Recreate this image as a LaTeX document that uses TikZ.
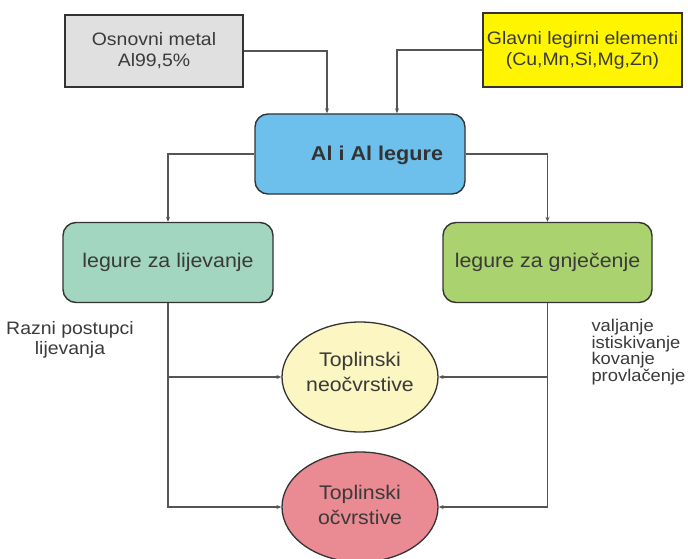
\documentclass[tikz,border=0pt]{standalone}
\usepackage{fontspec}
\setmainfont[FakeStretch=1.08]{Liberation Sans}
\usetikzlibrary{arrows.meta,shapes.geometric}
\definecolor{txt}{HTML}{3A3A3A}
\definecolor{edge}{HTML}{333333}
\definecolor{linec}{HTML}{555555}
\definecolor{grayfill}{HTML}{E0E0E0}
\definecolor{yellowfill}{HTML}{FFF500}
\definecolor{bluefill}{HTML}{6EC0EC}
\definecolor{mintfill}{HTML}{A2D6C0}
\definecolor{limefill}{HTML}{AAD26E}
\definecolor{creamfill}{HTML}{FBF6C2}
\definecolor{pinkfill}{HTML}{EA8A92}
\begin{document}
\begin{tikzpicture}[x=1pt,y=-1pt,
  every node/.style={text=txt,font=\fontsize{18}{21}\selectfont},
  sqbox/.style={draw=edge,line width=1.4pt,align=center,inner sep=0pt},
  rbox/.style={draw=edge,line width=1.4pt,rounded corners=13pt,align=center,inner sep=0pt,minimum width=210pt,minimum height=80pt,font=\fontsize{19.8}{22}\selectfont},
  oval/.style={ellipse,draw=edge,line width=1.3pt,align=center,inner sep=0pt,minimum width=156pt,minimum height=110pt,font=\fontsize{19.7}{22}\selectfont},
  conn/.style={draw=linec,line width=1.3pt},
  arr/.style={conn,-{Stealth[length=5pt,width=4pt]}},
  note/.style={font=\fontsize{17}{16.7}\selectfont}
]
\useasboundingbox (0,0) rectangle (688,559);
\node[sqbox,fill=grayfill,minimum width=178pt,minimum height=72pt] (osn) at (154,51) {Osnovni metal\\Al99,5\%};
\node[sqbox,fill=yellowfill,minimum width=199pt,minimum height=74pt] (gl) at (582.5,50) {Glavni legirni elementi\\(Cu,Mn,Si,Mg,Zn)};
\node[rbox,fill=bluefill] (al) at (360,154) {};
\node[font=\fontsize{20}{22}\selectfont\bfseries,text=black!80] (altext) at (377,155) {Al i Al legure};
\node[rbox,fill=mintfill] (lij) at (168,262.5) {legure za lijevanje};
\node[rbox,fill=limefill,minimum width=209pt] (gnj) at (547.5,262.5) {legure za gnječenje};
\node[oval,fill=creamfill] (neo) at (360,377) {};
\node (neotext) at (360,372) [align=center,font=\fontsize{19.7}{25}\selectfont] {Toplinski\\neočvrstive};
\node[oval,fill=pinkfill] (ocv) at (360,507) {};
\node (ocvtext) at (360,505) [align=center,font=\fontsize{19.7}{25}\selectfont] {Toplinski\\očvrstive};
\node[align=center,font=\fontsize{18}{19.5}\selectfont] (razni) at (70,340) {Razni postupci\\lijevanja};
\node[note,align=left,anchor=west] (proc) at (588,352) {valjanje\\istiskivanje\\kovanje\\provlačenje};
\draw[arr] (osn.east) -| ([xshift=-33pt]al.north);
\draw[arr] (gl.west) -| ([xshift=37pt]al.north);
\draw[arr] (al.west) -| (lij.north);
\draw[arr] (al.east) -| (gnj.north);
\draw[arr] (lij.south) |- (ocv.west);
\draw[arr] (lij.south |- neo.west) -- (neo.west);
\draw[arr] (gnj.south) |- (ocv.east);
\draw[arr] (gnj.south |- neo.east) -- (neo.east);
\end{tikzpicture}
\end{document}
